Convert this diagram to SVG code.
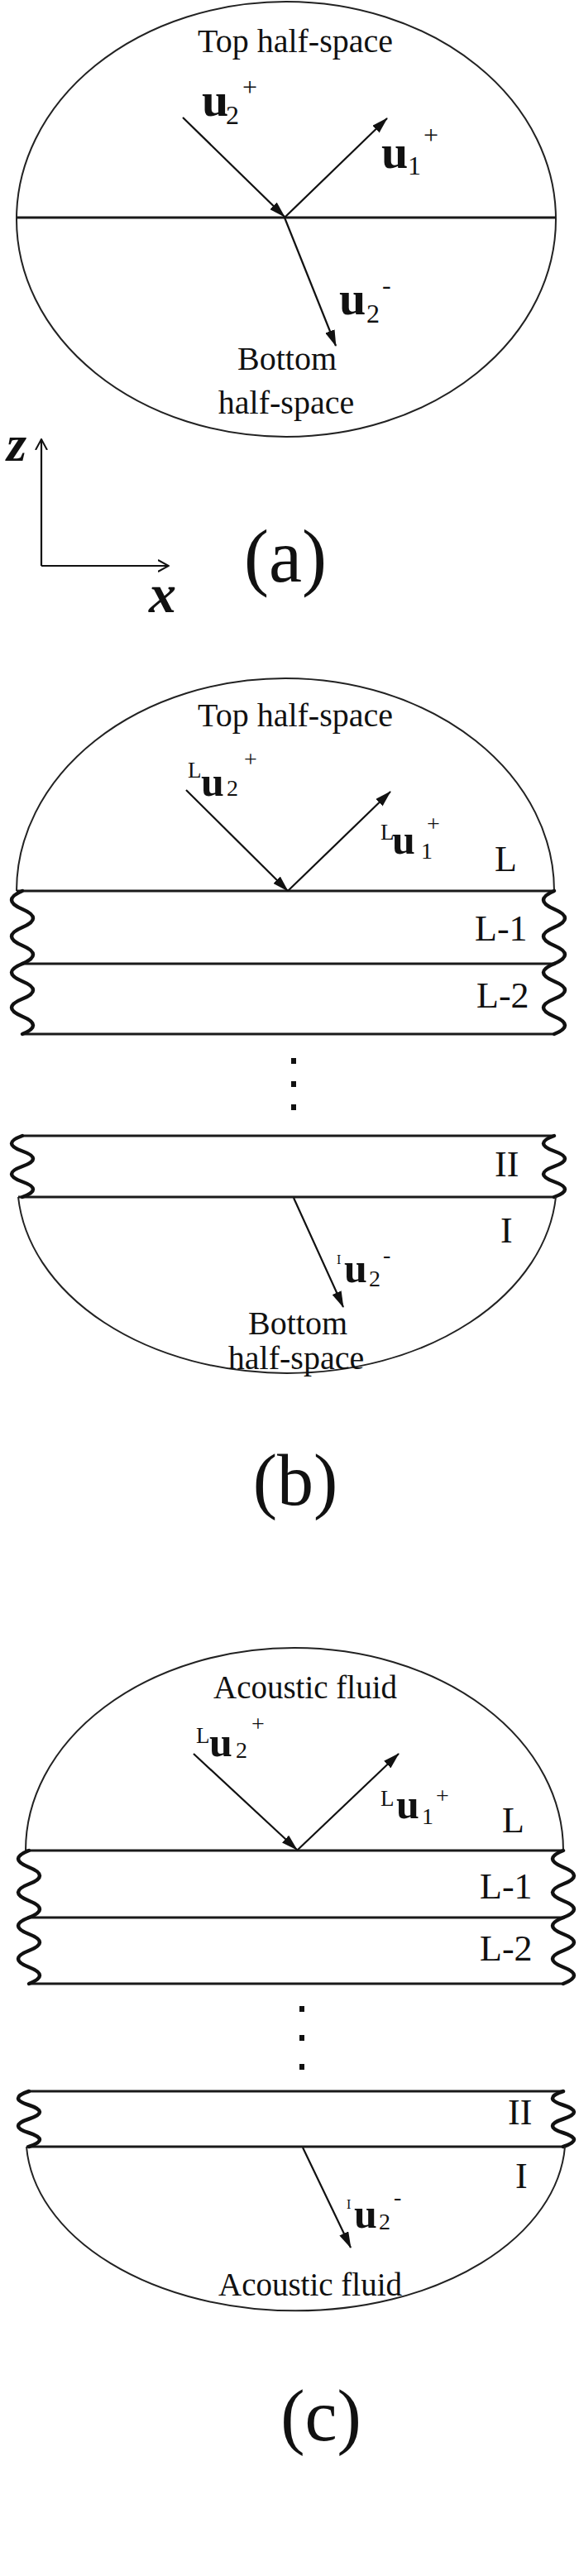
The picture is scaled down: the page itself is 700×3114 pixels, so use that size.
<svg xmlns="http://www.w3.org/2000/svg" width="700" height="3114" viewBox="0 0 700 3114">
<defs>
<style>
.t{font-family:"Liberation Serif","Times New Roman",serif;fill:#111}
.u{font-weight:bold}
.sh{fill:none;stroke:#222;stroke-width:2}
.ln{fill:none;stroke:#1a1a1a;stroke-width:3}
.wv{fill:none;stroke:#111;stroke-width:4.5;stroke-linecap:round}
.ar{fill:none;stroke:#111;stroke-width:2.2;marker-end:url(#ah)}
.ax{fill:none;stroke:#111;stroke-width:2.2;marker-end:url(#oa)}
.dot{fill:#111}
</style>
<marker id="ah" viewBox="0 0 20 12" refX="19" refY="6" markerWidth="20" markerHeight="12" markerUnits="userSpaceOnUse" orient="auto"><path d="M0,0 L20,6 L0,12 z" fill="#111"/></marker>
<marker id="oa" viewBox="0 0 14 16" refX="13" refY="8" markerWidth="14" markerHeight="16" markerUnits="userSpaceOnUse" orient="auto"><path d="M0,1 L13,8 L0,15" fill="none" stroke="#111" stroke-width="2"/></marker>
</defs>
<rect width="700" height="3114" fill="#fff"/>

<g font-family="Liberation Serif, Times New Roman, serif">
<!-- Panel (a) -->
<g id="panel-a">
<g id="a-space"><ellipse class="sh" cx="346" cy="265" rx="326" ry="263"/><line class="ln" x1="20" y1="263" x2="672" y2="263"/></g>
<g id="a-top-label"><text class="t" x="357" y="63" font-size="40" text-anchor="middle">Top half-space</text></g>
<g id="a-bottom-label"><text class="t" x="347" y="447" font-size="40" text-anchor="middle">Bottom</text><text class="t" x="346" y="500" font-size="40" text-anchor="middle">half-space</text></g>
<g id="a-u2p"><text class="t"><tspan class="u" x="244" y="140" font-size="58">u</tspan><tspan x="273" y="150" font-size="32">2</tspan><tspan x="293" y="116" font-size="32">+</tspan></text></g>
<g id="a-u1p"><text class="t"><tspan class="u" x="461" y="203" font-size="58">u</tspan><tspan x="493" y="211" font-size="32">1</tspan><tspan x="512" y="174" font-size="32">+</tspan></text></g>
<g id="a-u2m"><text class="t"><tspan class="u" x="410" y="380" font-size="58">u</tspan><tspan x="443" y="390" font-size="32">2</tspan><tspan x="462" y="355" font-size="32">-</tspan></text></g>
<g id="axes"><line class="ax" x1="50" y1="684" x2="50" y2="531"/><line class="ax" x1="50" y1="684" x2="204" y2="684"/>
<text class="t" x="8" y="557" font-size="62" font-style="italic" font-weight="bold">z</text>
<text class="t" x="180" y="740" font-size="66" font-style="italic" font-weight="bold">x</text></g>
<g id="a-caption"><text class="t" x="345" y="703" font-size="90" text-anchor="middle">(a)</text></g>
</g>

<!-- Panel (b) -->
<g id="panel-b">
<g id="b-top"><path class="sh" d="M20,1077 A325,257 0 0 1 670,1077"/><line class="ln" x1="20" y1="1077" x2="670" y2="1077"/></g>
<g id="b-layer-L1"><line class="ln" x1="27" y1="1165" x2="670" y2="1165"/>
<path class="wv" d="M27,1077 q-26,11 0,22 t0,22 t0,22 t0,22"/><path class="wv" d="M670,1077 q-26,11 0,22 t0,22 t0,22 t0,22"/></g>
<g id="b-layer-L2"><line class="ln" x1="27" y1="1250" x2="670" y2="1250"/>
<path class="wv" d="M27,1165 q-26,10.6 0,21.25 t0,21.25 t0,21.25 t0,21.25"/><path class="wv" d="M670,1165 q-26,10.6 0,21.25 t0,21.25 t0,21.25 t0,21.25"/></g>
<g id="b-dots"><rect class="dot" x="352" y="1279" width="6" height="7"/><rect class="dot" x="352" y="1307" width="6" height="7"/><rect class="dot" x="352" y="1335" width="6" height="7"/></g>
<g id="b-layer-II"><line class="ln" x1="27" y1="1373" x2="670" y2="1373"/><line class="ln" x1="22" y1="1447" x2="672" y2="1447"/>
<path class="wv" d="M27,1373 q-26,9.25 0,18.5 t0,18.5 t0,18.5 t0,18.5"/><path class="wv" d="M670,1373 q-26,9.25 0,18.5 t0,18.5 t0,18.5 t0,18.5"/></g>
<g id="b-bottom"><path class="sh" d="M22,1447 A326,231 0 0 0 672,1447"/></g>
<g id="b-labels">
<text class="t" x="357" y="878" font-size="40" text-anchor="middle">Top half-space</text>
<text class="t"><tspan x="227" y="940" font-size="27">L</tspan><tspan class="u" x="243" y="962" font-size="50">u</tspan><tspan x="274" y="962" font-size="28">2</tspan><tspan x="295" y="927" font-size="28">+</tspan></text>
<text class="t"><tspan x="460" y="1015" font-size="27">L</tspan><tspan class="u" x="474" y="1032" font-size="50">u</tspan><tspan x="509" y="1038" font-size="28">1</tspan><tspan x="516" y="1005" font-size="28">+</tspan></text>
<text class="t" x="598" y="1053" font-size="44">L</text>
<text class="t" x="574" y="1137" font-size="44">L-1</text>
<text class="t" x="576" y="1218" font-size="44">L-2</text>
<text class="t" x="598" y="1422" font-size="44">II</text>
<text class="t" x="605" y="1502" font-size="44">I</text>
<text class="t"><tspan x="407" y="1528" font-size="16">I</tspan><tspan class="u" x="416" y="1550" font-size="50">u</tspan><tspan x="446" y="1555" font-size="28">2</tspan><tspan x="463" y="1526" font-size="28">-</tspan></text>
<text class="t" x="360" y="1613" font-size="40" text-anchor="middle">Bottom</text>
<text class="t" x="358" y="1655" font-size="40" text-anchor="middle">half-space</text>
<text class="t" x="357" y="1819" font-size="88" text-anchor="middle">(b)</text>
</g>
</g>

<!-- Panel (c) -->
<g id="panel-c">
<g id="c-top"><path class="sh" d="M31,2237 A325,245 0 0 1 681,2237"/><line class="ln" x1="31" y1="2237" x2="681" y2="2237"/></g>
<g id="c-layer-L1"><line class="ln" x1="35" y1="2318" x2="681" y2="2318"/>
<path class="wv" d="M35,2237 q-26,10.1 0,20.25 t0,20.25 t0,20.25 t0,20.25"/><path class="wv" d="M681,2237 q-26,10.1 0,20.25 t0,20.25 t0,20.25 t0,20.25"/></g>
<g id="c-layer-L2"><line class="ln" x1="35" y1="2398" x2="681" y2="2398"/>
<path class="wv" d="M35,2318 q-26,10 0,20 t0,20 t0,20 t0,20"/><path class="wv" d="M681,2318 q-26,10 0,20 t0,20 t0,20 t0,20"/></g>
<g id="c-dots"><rect class="dot" x="362" y="2425" width="6" height="7"/><rect class="dot" x="362" y="2460" width="6" height="7"/><rect class="dot" x="362" y="2495" width="6" height="7"/></g>
<g id="c-layer-II"><line class="ln" x1="35" y1="2528" x2="681" y2="2528"/><line class="ln" x1="32" y1="2595" x2="683" y2="2595"/>
<path class="wv" d="M35,2528 q-26,8.4 0,16.75 t0,16.75 t0,16.75 t0,16.75"/><path class="wv" d="M681,2528 q-26,8.4 0,16.75 t0,16.75 t0,16.75 t0,16.75"/></g>
<g id="c-bottom"><path class="sh" d="M32,2595 A326,210 0 0 0 683,2595"/></g>
<g id="c-labels">
<text class="t" x="369" y="2053" font-size="39" text-anchor="middle">Acoustic fluid</text>
<text class="t"><tspan x="237" y="2107" font-size="27">L</tspan><tspan class="u" x="253" y="2123" font-size="50">u</tspan><tspan x="285" y="2125" font-size="28">2</tspan><tspan x="304" y="2093" font-size="28">+</tspan></text>
<text class="t"><tspan x="460" y="2183" font-size="27">L</tspan><tspan class="u" x="479" y="2198" font-size="50">u</tspan><tspan x="510" y="2205" font-size="28">1</tspan><tspan x="527" y="2180" font-size="28">+</tspan></text>
<text class="t" x="607" y="2215" font-size="44">L</text>
<text class="t" x="580" y="2295" font-size="44">L-1</text>
<text class="t" x="580" y="2370" font-size="44">L-2</text>
<text class="t" x="614" y="2568" font-size="44">II</text>
<text class="t" x="623" y="2645" font-size="44">I</text>
<text class="t"><tspan x="419" y="2670" font-size="16">I</tspan><tspan class="u" x="428" y="2693" font-size="50">u</tspan><tspan x="458" y="2695" font-size="28">2</tspan><tspan x="476" y="2665" font-size="28">-</tspan></text>
<text class="t" x="375" y="2775" font-size="39" text-anchor="middle">Acoustic fluid</text>
<text class="t" x="388" y="2950" font-size="88" text-anchor="middle">(c)</text>
</g>
</g>
</g>

<!-- Connectors -->
<g id="connectors">
<line class="ar" x1="221" y1="142" x2="344" y2="262"/>
<line class="ar" x1="344" y1="263" x2="468" y2="143"/>
<line class="ar" x1="344" y1="263" x2="406" y2="418"/>
<line class="ar" x1="225" y1="955" x2="348" y2="1077"/>
<line class="ar" x1="348" y1="1077" x2="472" y2="957"/>
<line class="ar" x1="355" y1="1448" x2="415" y2="1580"/>
<line class="ar" x1="234" y1="2120" x2="359" y2="2236"/>
<line class="ar" x1="359" y1="2237" x2="482" y2="2120"/>
<line class="ar" x1="366" y1="2596" x2="424" y2="2717"/>
</g>
</svg>
